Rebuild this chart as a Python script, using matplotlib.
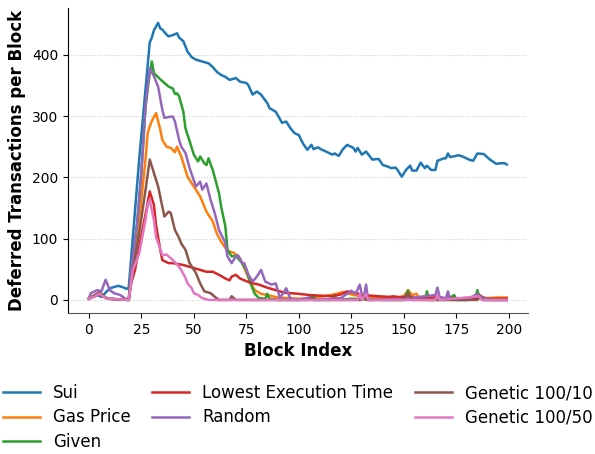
import matplotlib
matplotlib.use("Agg")
import matplotlib.pyplot as plt

# block index / deferred tx values, per strategy
sui_x = [0, 2, 4, 6, 8, 10, 12, 14, 16, 18, 19, 24, 29, 30, 31, 33, 34, 35, 37, 38,
         40, 42, 43, 45, 47, 49, 51, 54, 57, 59, 61, 63, 65, 67, 69, 70, 72, 75, 76, 78,
         80, 82, 85, 86, 89, 92, 94, 96, 98, 100, 102, 104, 106, 107, 109, 111, 113, 116, 117, 119,
         121, 123, 126, 127, 128, 130, 132, 135, 138, 140, 142, 144, 146, 147, 149, 151, 153, 154, 156, 158,
         160, 161, 163, 165, 166, 169, 170, 171, 172, 176, 178, 181, 183, 185, 188, 191, 194, 196, 198, 199]
sui_y = [2, 6, 8, 5, 12, 19, 21, 23, 21, 18, 20, 230, 420, 428, 440, 452, 443, 441, 433, 430,
         432, 435, 428, 422, 405, 396, 392, 389, 386, 380, 372, 367, 364, 359, 361, 362, 356, 354, 350, 335,
         340, 335, 321, 313, 307, 289, 291, 280, 272, 269, 255, 245, 253, 246, 249, 245, 242, 237, 239, 235,
         246, 253, 248, 242, 248, 237, 242, 229, 230, 220, 218, 215, 216, 212, 201, 212, 219, 211, 211, 224,
         215, 219, 212, 212, 227, 231, 231, 239, 233, 236, 234, 229, 227, 239, 238, 229, 222, 223, 223, 221]

gas_x = [0, 3, 5, 7, 9, 19, 20, 23, 25, 27, 28, 29, 30, 32, 34, 35, 37, 39, 41, 42,
         44, 45, 47, 50, 53, 56, 59, 61, 63, 66, 69, 72, 75, 77, 79, 82, 85, 90, 95, 100,
         105, 110, 115, 118, 121, 123, 126, 130, 135, 140, 145, 150, 152, 154, 156, 157, 158, 162, 165, 170,
         175, 180, 185, 190, 195, 199]
gas_y = [2, 8, 12, 6, 2, 0, 33, 98, 163, 230, 272, 283, 292, 305, 278, 261, 250, 248, 241, 250,
         234, 223, 201, 185, 169, 144, 128, 108, 95, 80, 77, 68, 44, 28, 16, 10, 8, 4, 3, 2,
         3, 5, 8, 10, 13, 11, 8, 6, 4, 3, 4, 6, 16, 8, 10, 5, 3, 2, 4, 2,
         3, 2, 5, 3, 4, 4]

given_x = [0, 3, 5, 7, 9, 19, 20, 23, 25, 27, 29, 30, 31, 34, 36, 38, 40, 41, 42, 43,
           45, 46, 48, 50, 52, 53, 55, 56, 57, 59, 62, 63, 65, 66, 68, 70, 73, 75, 77, 79,
           81, 84, 85, 86, 90, 100, 106, 107, 108, 115, 117, 118, 125, 140, 150, 152, 153, 160, 161, 162,
           170, 174, 175, 180, 184, 185, 186, 188, 195, 199]
given_y = [2, 8, 12, 6, 2, 0, 44, 125, 207, 316, 370, 389, 370, 360, 354, 348, 345, 336, 337, 332,
           307, 280, 259, 237, 226, 234, 223, 220, 231, 212, 174, 152, 120, 82, 71, 72, 60, 49, 27, 10,
           3, 2, 10, 2, 0, 0, 2, 7, 0, 0, 8, 0, 2, 0, 0, 15, 2, 0, 14, 0,
           0, 8, 0, 0, 2, 16, 3, 0, 0, 0]

let_x = [0, 3, 5, 7, 9, 19, 20, 22, 24, 27, 29, 31, 32, 34, 35, 38, 40, 45, 50, 53,
         56, 59, 62, 65, 67, 68, 70, 72, 74, 77, 81, 85, 89, 93, 96, 100, 105, 110, 116, 120,
         123, 126, 130, 134, 138, 143, 145, 148, 152, 156, 160, 165, 170, 175, 180, 185, 190, 195, 199]
let_y = [2, 6, 10, 5, 2, 0, 25, 49, 87, 140, 177, 155, 122, 82, 65, 60, 60, 57, 52, 49,
         46, 46, 41, 35, 32, 38, 41, 35, 32, 28, 25, 20, 16, 12, 11, 10, 8, 7, 6, 9,
         14, 12, 9, 7, 6, 5, 6, 4, 6, 3, 3, 4, 3, 2, 2, 3, 2, 2, 2]

rand_x = [0, 1, 4, 6, 8, 10, 12, 15, 17, 19, 20, 23, 25, 27, 29, 31, 33, 35, 36, 39,
          40, 41, 43, 44, 46, 48, 51, 53, 54, 56, 58, 60, 62, 65, 66, 68, 70, 71, 73, 74,
          76, 78, 80, 82, 84, 87, 89, 91, 94, 96, 100, 106, 107, 108, 120, 125, 127, 129, 130, 131,
          132, 133, 135, 150, 165, 166, 167, 170, 171, 172, 180, 185, 186, 190, 199]
rand_y = [3, 11, 16, 14, 33, 16, 11, 8, 3, 0, 44, 125, 207, 316, 378, 365, 348, 310, 297, 299,
          299, 291, 261, 250, 240, 215, 185, 193, 180, 190, 163, 141, 114, 93, 71, 60, 71, 73, 60, 60,
          41, 30, 38, 49, 30, 25, 27, 3, 19, 2, 0, 5, 0, 0, 3, 15, 10, 25, 8, 6,
          25, 0, 0, 2, 8, 20, 5, 2, 14, 0, 0, 10, 8, 0, 0]

gen10_x = [0, 3, 5, 7, 9, 19, 21, 24, 27, 29, 31, 33, 35, 36, 38, 39, 41, 43, 44, 46,
           48, 51, 53, 55, 58, 60, 62, 67, 68, 70, 72, 80, 105, 106, 107, 110, 130, 131, 132, 150,
           152, 154, 170, 185, 186, 188, 199]
gen10_y = [2, 8, 12, 6, 2, 0, 49, 109, 180, 229, 207, 185, 152, 136, 144, 142, 114, 101, 92, 82,
           60, 44, 27, 14, 11, 5, 0, 0, 6, 0, 0, 0, 0, 5, 0, 0, 0, 8, 0, 0,
           11, 0, 0, 0, 8, 0, 0]

gen50_x = [0, 3, 5, 7, 9, 19, 21, 24, 27, 28, 29, 31, 32, 35, 37, 39, 40, 42, 44, 46,
           47, 49, 50, 52, 54, 57, 60, 80, 128, 129, 130, 132, 133, 165, 166, 167, 186, 187, 199]
gen50_y = [2, 6, 10, 5, 2, 0, 49, 76, 131, 155, 163, 130, 103, 73, 74, 68, 65, 58, 49, 36,
           27, 19, 11, 8, 3, 0, 0, 0, 0, 10, 0, 10, 0, 0, 8, 0, 6, 0, 0]

series = [
    ("Sui", sui_x, sui_y),
    ("Gas Price", gas_x, gas_y),
    ("Given", given_x, given_y),
    ("Lowest Execution Time", let_x, let_y),
    ("Random", rand_x, rand_y),
    ("Genetic 100/10", gen10_x, gen10_y),
    ("Genetic 100/50", gen50_x, gen50_y),
]

fig = plt.figure(figsize=(5.95, 4.54), dpi=100)
ax = fig.add_axes([0.114, 0.311, 0.773, 0.671])

for label, xs, ys in series:
    ax.plot(xs, ys, label=label, linewidth=1.8)

ax.set_xlim(-10, 209)
ax.set_ylim(-21, 476)
ax.set_xticks(range(0, 201, 25))
ax.set_yticks(range(0, 401, 100))
ax.tick_params(labelsize=10)
ax.grid(axis="y", linestyle=":", color="#cccccc", linewidth=0.8)
ax.set_axisbelow(True)
ax.spines["top"].set_visible(False)
ax.spines["right"].set_visible(False)
ax.spines["bottom"].set_color("#555555")

ax.set_xlabel("Block Index", fontsize=12, fontweight="bold")
ax.set_ylabel("Deferred Transactions per Block", fontsize=12, fontweight="bold")

ax.legend(loc="upper center", bbox_to_anchor=(0.5, -0.185), ncol=3, frameon=False,
          fontsize=12, columnspacing=1.3, handlelength=2.2, labelspacing=0.38)

fig.savefig("out.png", dpi=100)
